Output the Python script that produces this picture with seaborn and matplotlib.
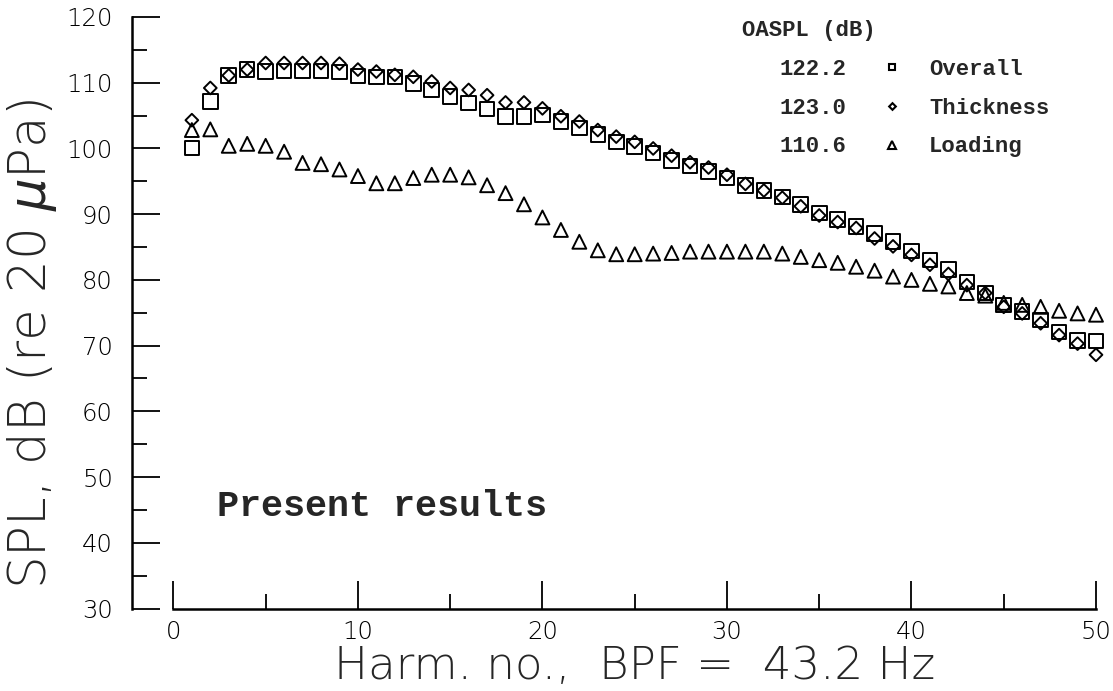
import matplotlib
matplotlib.use('Agg')
import matplotlib.pyplot as plt
import seaborn as sns
import pandas as pd
from matplotlib.lines import Line2D

# harmonic numbers and SPL values (dB)
harmonic = list(range(1, 51))
overall = [100.1, 107.1, 111.1, 112.0, 111.7, 111.8, 111.8, 111.8, 111.6, 111.0,
           110.9, 110.9, 109.9, 108.9, 107.9, 106.9, 106.0, 104.9, 104.9, 105.1,
           104.1, 103.1, 102.1, 101.0, 100.3, 99.3, 98.2, 97.3, 96.5, 95.5,
           94.4, 93.6, 92.6, 91.5, 90.2, 89.2, 88.1, 87.1, 85.8, 84.4,
           83.0, 81.6, 79.7, 78.0, 76.2, 75.2, 73.9, 72.1, 70.8, 70.7]
thickness = [104.3, 109.2, 111.1, 112.0, 113.0, 113.0, 113.0, 113.0, 112.9, 112.0,
             111.7, 111.2, 110.9, 110.2, 109.2, 108.9, 108.1, 107.0, 107.0, 106.1,
             104.9, 104.1, 102.8, 101.8, 101.0, 100.0, 98.9, 97.9, 97.1, 96.0,
             94.6, 93.6, 92.5, 91.2, 89.8, 88.8, 87.9, 86.3, 85.1, 83.8,
             82.3, 80.9, 79.2, 78.0, 75.9, 74.9, 73.4, 71.6, 70.3, 68.6]
loading = [102.8, 102.9, 100.4, 100.7, 100.4, 99.5, 97.8, 97.6, 96.8, 95.8,
           94.7, 94.7, 95.5, 96.0, 96.0, 95.6, 94.4, 93.2, 91.5, 89.5,
           87.6, 85.8, 84.5, 83.9, 83.9, 84.0, 84.1, 84.3, 84.3, 84.3,
           84.3, 84.3, 84.0, 83.5, 83.0, 82.6, 82.0, 81.4, 80.5, 80.0,
           79.4, 79.0, 78.0, 77.6, 76.5, 76.2, 75.9, 75.3, 74.9, 74.7]

series_names = ['Overall', 'Thickness', 'Loading']
oaspl = ['122.2', '123.0', '110.6']

sns.set_style('white')
plt.rcParams['font.family'] = ['DejaVu Sans']
plt.rcParams['font.weight'] = 'light'
plt.rcParams['mathtext.fontset'] = 'custom'
plt.rcParams['mathtext.it'] = 'DejaVu Sans:italic'
plt.rcParams['mathtext.rm'] = 'DejaVu Sans:light'

df = pd.DataFrame({'harm': harmonic, 'Overall': overall,
                   'Thickness': thickness, 'Loading': loading})

fig = plt.figure(figsize=(11.13, 6.91), dpi=100)
ax = fig.add_axes([173.4 / 1113, (691 - 608.5) / 691,
                   (1096 - 173.4) / 1113, (608.5 - 17) / 691])

common = dict(facecolors='none', edgecolor='black', linewidth=1.4, clip_on=False, ax=ax)
sns.scatterplot(data=df, x='harm', y='Overall', marker='s', s=110, **common)
sns.scatterplot(data=df, x='harm', y='Thickness', marker='D', s=42, **common)
sns.scatterplot(data=df, x='harm', y='Loading', marker='^', s=100, **common)

ax.set_xlim(0, 50)
ax.set_ylim(30, 120)
ax.set_xticks(range(0, 51, 10))
ax.set_xticks(range(5, 50, 10), minor=True)
ax.set_yticks(range(30, 121, 10))
ax.set_yticks(range(35, 120, 10), minor=True)
ax.tick_params(which='both', bottom=True, left=True, direction='in',
               width=1.3, color='black')
ax.tick_params(which='major', length=20, labelsize=17.5, labelcolor='black')
ax.tick_params(which='minor', length=11)
ax.tick_params(axis='y', pad=13.5)
ax.tick_params(axis='x', pad=8)

sns.despine(ax=ax)
ax.spines['left'].set_position(('outward', 30))
for sp in ['left', 'bottom']:
    ax.spines[sp].set_linewidth(1.8)
    ax.spines[sp].set_color('black')

ax.set_xlabel('Harm. no.,  BPF =  43.2 Hz', fontsize=32.5, fontweight='light')
ax.xaxis.set_label_coords(0.5, -0.062)
ax.set_ylabel(r'SPL, dB (re 20 $\mu$Pa)', fontsize=37, fontweight='light')
ax.yaxis.set_label_coords(-0.124, 0.448)

ax.text(2.36, 44.1, 'Present results', family='Liberation Mono',
        fontsize=26.5, fontweight='bold', va='baseline')

# legend: OASPL values in the first column, symbols and names in the second
blank = [Line2D([], [], color='none') for _ in oaspl]
keys = [Line2D([], [], ls='', marker=m, ms=ms, mfc='none', mec='black', mew=1.5)
        for m, ms in zip(['s', 'D', '^'], [4.8, 3.4, 5.2])]
legend_font = {'family': 'Liberation Mono', 'size': 16, 'weight': 'bold'}
leg = ax.legend(blank + keys, oaspl + series_names, ncol=2, title='OASPL (dB)',
                alignment='left', frameon=False, loc='upper left',
                bbox_to_anchor=(742 / 1113, (691 - 20) / 691),
                bbox_transform=fig.transFigure,
                prop=legend_font, title_fontproperties=legend_font,
                handlelength=0.1, handletextpad=1.6, columnspacing=2.0,
                labelspacing=0.8, borderpad=0, borderaxespad=0)

fig.savefig('out.png', dpi=100)
